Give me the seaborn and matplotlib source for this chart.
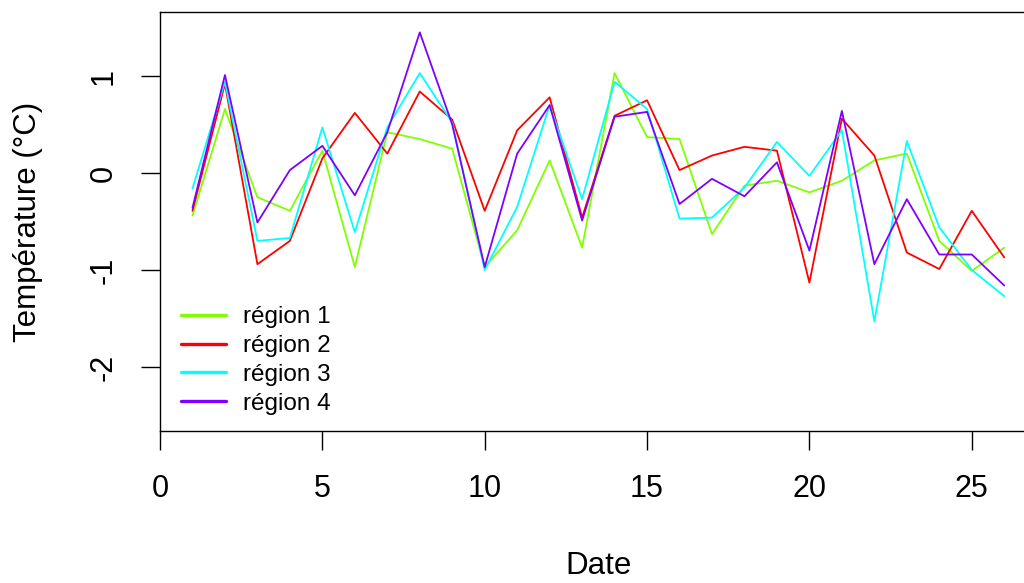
import numpy as np
import pandas as pd
import matplotlib
matplotlib.use("Agg")
import matplotlib.pyplot as plt
import seaborn as sns
from matplotlib.lines import Line2D

# Dates (days) and temperature anomalies per region
dates = list(range(1, 27))
region1 = [-0.44, 0.66, -0.25, -0.39, 0.23, -0.97, 0.42, 0.35, 0.25, -0.97,
           -0.59, 0.13, -0.77, 1.03, 0.37, 0.35, -0.63, -0.13, -0.08, -0.20,
           -0.08, 0.13, 0.20, -0.70, -1.01, -0.77]
region2 = [-0.39, 0.92, -0.94, -0.70, 0.15, 0.62, 0.20, 0.84, 0.55, -0.39,
           0.44, 0.78, -0.46, 0.59, 0.75, 0.03, 0.18, 0.27, 0.23, -1.13,
           0.56, 0.18, -0.82, -0.99, -0.39, -0.87]
region3 = [-0.16, 0.94, -0.70, -0.67, 0.47, -0.61, 0.47, 1.03, 0.52, -1.00,
           -0.35, 0.70, -0.27, 0.94, 0.66, -0.47, -0.46, -0.15, 0.32, -0.03,
           0.44, -1.53, 0.33, -0.56, -1.00, -1.27]
region4 = [-0.36, 1.01, -0.51, 0.03, 0.28, -0.23, 0.42, 1.45, 0.50, -0.97,
           0.20, 0.70, -0.49, 0.58, 0.63, -0.32, -0.06, -0.24, 0.11, -0.80,
           0.64, -0.94, -0.27, -0.84, -0.84, -1.16]

region_names = ["région 1", "région 2", "région 3", "région 4"]
colors = ["#80FF00", "#FF0000", "#00FFFF", "#8000FF"]

df = pd.DataFrame({
    "Date": dates * 4,
    "temp": region1 + region2 + region3 + region4,
    "region": np.repeat(region_names, len(dates)),
})

sns.set_style("white")
plt.rcParams["font.family"] = ["Liberation Sans", "DejaVu Sans"]
plt.rcParams["text.color"] = "black"
plt.rcParams["axes.labelcolor"] = "black"

fig = plt.figure(figsize=(10.24, 5.83), dpi=100)
# right edge of the box lies beyond the picture, as in the reference
ax = fig.add_axes([160 / 1024, 1 - 431 / 583, 876.7 / 1024, 419 / 583])

sns.lineplot(data=df, x="Date", y="temp", hue="region", palette=colors,
             linewidth=1.3, legend=False, ax=ax, sort=False)

ax.set_xlim(0, 27)
ax.set_ylim(-2.66, 1.66)
ax.set_xticks([0, 5, 10, 15, 20, 25])
ax.set_yticks([-2, -1, 0, 1])
ax.set_yticklabels(["-2", "-1", "0", "1"], rotation=90, va="center")

for s in ax.spines.values():
    s.set_color("black")
    s.set_linewidth(1.0)

ax.tick_params(axis="both", direction="out", length=13.7, width=1,
               color="black", labelsize=22, labelcolor="black",
               bottom=True, left=True)
ax.tick_params(axis="x", pad=17)
ax.tick_params(axis="y", pad=16)

ax.set_xlabel("Date", fontsize=22.5)
ax.set_ylabel("Température (°C)", fontsize=22.5)
ax.xaxis.set_label_coords(0.5, -0.287)
ax.yaxis.set_label_coords(-0.151, 0.5)
ax.xaxis.label.set_va("top")
ax.yaxis.label.set_va("center")

handles = [Line2D([0], [0], color=c, lw=2.4) for c in colors]
ax.legend(handles, region_names, loc="lower left", bbox_to_anchor=(0.024, 0.039),
          frameon=False, fontsize=17.5, handlelength=1.85, handletextpad=0.7,
          labelspacing=0.28, borderaxespad=0, borderpad=0)

fig.savefig("out.png", dpi=100)
